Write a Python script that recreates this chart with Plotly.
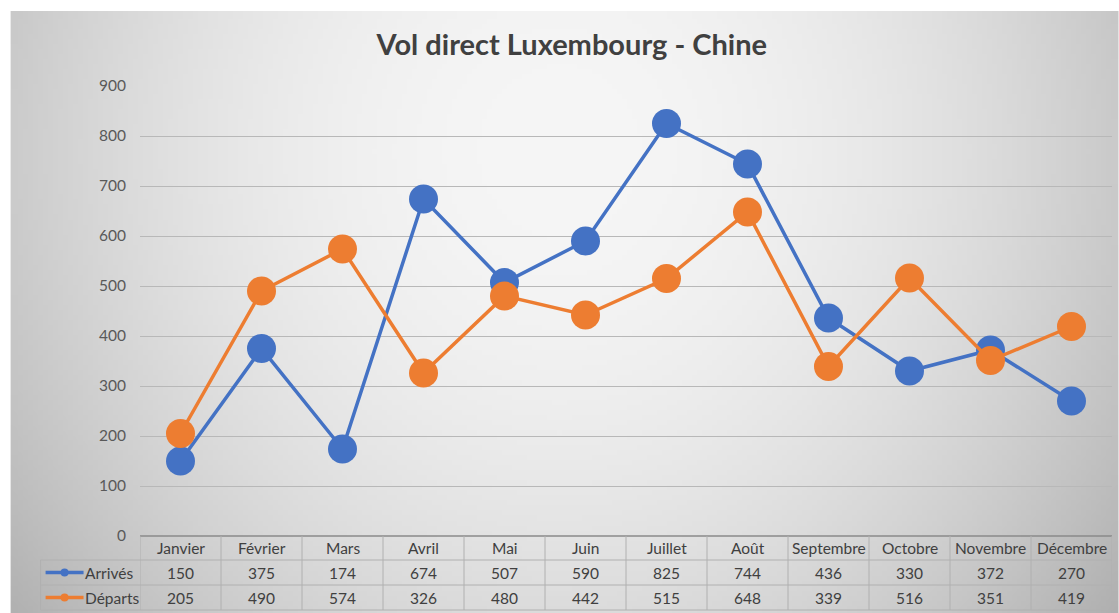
"""Vol direct Luxembourg - Chine : ligne + tableau de données façon Excel."""

import base64
import struct
import zlib

import plotly.graph_objects as go

# --- données ---
mois = ["Janvier", "Février", "Mars", "Avril", "Mai", "Juin", "Juillet",
        "Août", "Septembre", "Octobre", "Novembre", "Décembre"]
arrives = [150, 375, 174, 674, 507, 590, 825, 744, 436, 330, 372, 270]
departs = [205, 490, 574, 326, 480, 442, 515, 648, 339, 516, 351, 419]
y_ticks = [0, 100, 200, 300, 400, 500, 600, 700, 800, 900]

BLUE = "#4472C4"
ORANGE = "#ED7D31"
FONT = "Lato"
TXT = 15.5

W, H = 1119, 613
L, R, T, B = 139.5, 6.5, 86, 77
PW, PH = W - L - R, H - T - B


def px_x(px):
    return (px - L) / PW


def px_y(py):
    return (H - B - py) / PH


def _png_gray(w, h, pixel):
    """Tiny grayscale PNG encoder for the background gradient."""
    raw = b"".join(b"\x00" + bytes(pixel(i, j) for i in range(w)) for j in range(h))

    def chunk(tag, data):
        return (struct.pack(">I", len(data)) + tag + data
                + struct.pack(">I", zlib.crc32(tag + data) & 0xFFFFFFFF))

    png = b"\x89PNG\r\n\x1a\n"
    png += chunk(b"IHDR", struct.pack(">IIBBBBB", w, h, 8, 0, 0, 0, 0))
    png += chunk(b"IDAT", zlib.compress(raw))
    png += chunk(b"IEND", b"")
    return "data:image/png;base64," + base64.b64encode(png).decode()


# radial grey gradient, light in the upper middle
gw, gh = 222, 120


def _shade(i, j):
    x = 10 + i / (gw - 1) * 1109
    y = 11 + j / (gh - 1) * 602
    d2 = ((x - 560) / 560) ** 2 + ((y - 150) / 600) ** 2
    return max(0, min(255, int(246 - 44 * d2)))


bg_src = _png_gray(gw, gh, _shade)

fig = go.Figure()
fig.add_trace(go.Scatter(
    x=mois, y=arrives, name="Arrivés", mode="lines+markers",
    line=dict(color=BLUE, width=3.5),
    marker=dict(size=29, color=BLUE),
))
fig.add_trace(go.Scatter(
    x=mois, y=departs, name="Départs", mode="lines+markers",
    line=dict(color=ORANGE, width=3.5),
    marker=dict(size=29, color=ORANGE),
))

# --- tableau de données ---
row_h = [0, 24, 49, 74]  # px under the plot area
shapes = []
grid_c = "#b0b0b0"
# top border (dark)
shapes.append(dict(type="line", xref="paper", yref="paper", x0=0, x1=1,
                   y0=0, y1=0, line=dict(color="#8a8a8a", width=1.5)))
for k in (1, 2, 3):
    shapes.append(dict(type="line", xref="paper", yref="paper",
                       x0=px_x(40), x1=1, y0=-row_h[k] / PH, y1=-row_h[k] / PH,
                       line=dict(color=grid_c, width=1)))
for i in range(len(mois) + 1):
    shapes.append(dict(type="line", xref="x", yref="paper", x0=i - 0.5, x1=i - 0.5,
                       y0=0, y1=-row_h[3] / PH, line=dict(color=grid_c, width=1)))
shapes.append(dict(type="line", xref="paper", yref="paper", x0=px_x(40), x1=px_x(40),
                   y0=-row_h[1] / PH, y1=-row_h[3] / PH, line=dict(color=grid_c, width=1)))

annotations = []
cell_font = dict(size=TXT, color="#404040", family=FONT)
for i, m in enumerate(mois):
    for text, cy in ((m, 12), (str(arrives[i]), 36.5), (str(departs[i]), 61.5)):
        annotations.append(dict(x=m, xref="x", yref="paper", y=-cy / PH, text=text,
                                yanchor="middle", showarrow=False, font=cell_font))

for name, color, cy in (("Arrivés", BLUE, 36.5), ("Départs", ORANGE, 61.5)):
    yy = -cy / PH
    shapes.append(dict(type="line", xref="paper", yref="paper", x0=px_x(45), x1=px_x(83),
                       y0=yy, y1=yy, line=dict(color=color, width=3.5)))
    shapes.append(dict(type="circle", xref="paper", yref="paper",
                       x0=px_x(60), x1=px_x(68), y0=yy - 4 / PH, y1=yy + 4 / PH,
                       fillcolor=color, line=dict(width=0)))
    annotations.append(dict(x=px_x(82), xref="paper", yref="paper", y=yy, text=name,
                            xanchor="left", yanchor="middle", showarrow=False,
                            font=cell_font))

fig.update_layout(
    width=W, height=H,
    margin=dict(l=L, r=R, t=T, b=B),
    paper_bgcolor="white",
    plot_bgcolor="rgba(0,0,0,0)",
    showlegend=False,
    title=dict(text="<b>Vol direct Luxembourg - Chine</b>", x=0.511, xanchor="center",
               y=1 - 45 / H, yanchor="middle",
               font=dict(size=29, color="#404040", family=FONT)),
    xaxis=dict(type="category", range=[-0.5, len(mois) - 0.5], showticklabels=False,
               showgrid=False, zeroline=False, showline=False),
    yaxis=dict(range=[0, 900], tickvals=y_ticks, showgrid=True, gridcolor="#b8b8b8",
               gridwidth=1, zeroline=False, showline=False, ticklabelstandoff=13,
               tickfont=dict(size=TXT, color="#595959", family=FONT)),
    images=[dict(source=bg_src, xref="paper", yref="paper",
                 x=px_x(10), y=px_y(11), sizex=1109 / PW, sizey=602 / PH,
                 xanchor="left", yanchor="top", sizing="stretch", layer="below")],
    shapes=shapes,
    annotations=annotations,
    font=dict(family=FONT),
)

# the page body has a default 8px margin; remove it so the figure sits at (0, 0)
fig.write_html("out.html", config={"displayModeBar": False},
               post_script="document.body.style.margin='0';")
